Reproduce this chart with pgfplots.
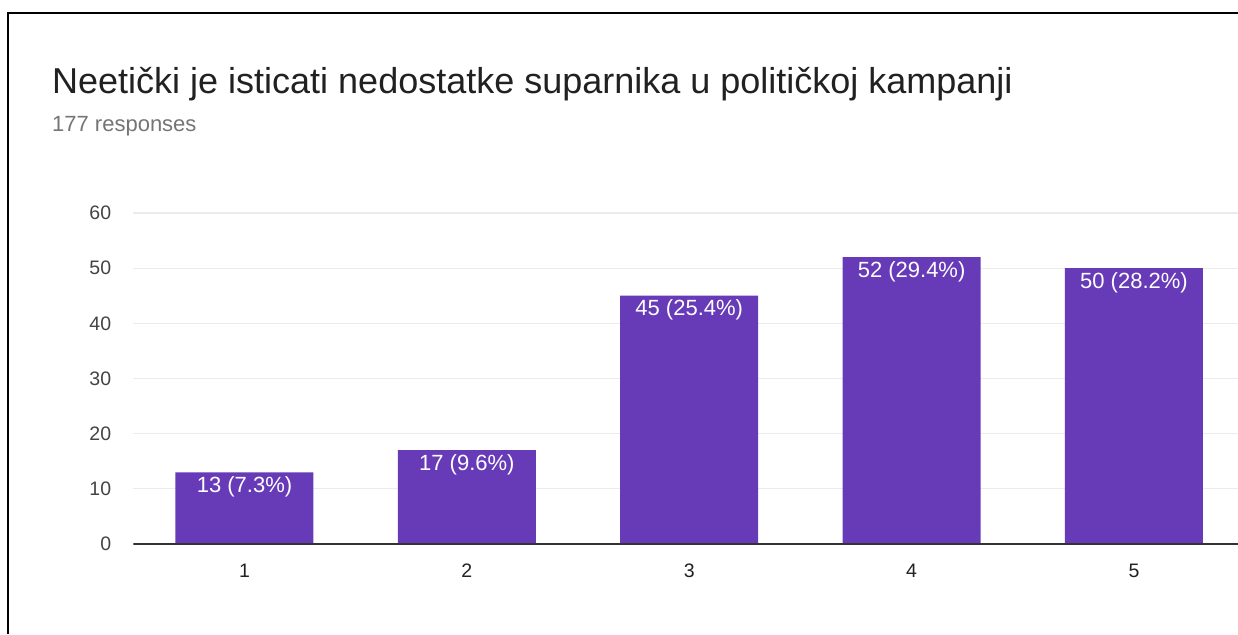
\documentclass[border=0pt]{standalone}
\usepackage{fontspec}
\setmainfont{Liberation Sans}
\usepackage{pgfplots}
\pgfplotsset{compat=1.18}
\definecolor{barc}{HTML}{673AB7}
\definecolor{gridc}{HTML}{EBEBEB}
\definecolor{axisc}{HTML}{333333}
\definecolor{ylab}{HTML}{444444}
\definecolor{xlab}{HTML}{222222}
\definecolor{subc}{HTML}{757575}
\definecolor{titc}{HTML}{212121}
\begin{document}
\begin{tikzpicture}[x=1pt,y=1pt]
\useasboundingbox (0,0) rectangle (1238,634);
\fill[white] (0,0) rectangle (1238,634);
\begin{axis}[
  at={(133.3pt,90pt)}, anchor=south west,
  scale only axis, width=1104.7pt, height=331pt,
  xmin=0.5, xmax=5.468, ymin=0, ymax=60,
  ytick={0,10,...,60}, xtick={1,2,3,4,5},
  ymajorgrids, grid style={color=gridc, line width=1.2pt},
  axis line style={draw=none},
  major tick length=0pt,
  yticklabel style={anchor=east, inner sep=0pt, xshift=-22pt, color=ylab, font=\fontsize{19.5}{22}\selectfont},
  xticklabel style={anchor=north, inner sep=0pt, yshift=-20pt, color=xlab, font=\fontsize{19.5}{22}\selectfont},
  /pgf/number format/assume math mode=true,
  point meta=explicit symbolic,
  nodes near coords,
  nodes near coords style={anchor=north, inner sep=0pt, yshift=-4pt, color=white, font=\fontsize{22}{24}\selectfont},
]
\addplot[ybar, bar width=138pt, fill=barc, draw=none] coordinates {
  (1,13) [13 (7.3\%)]
  (2,17) [17 (9.6\%)]
  (3,45) [45 (25.4\%)]
  (4,52) [52 (29.4\%)]
  (5,50) [50 (28.2\%)]
};
\draw[color=axisc, line width=1.5pt] (axis cs:0.5,0) -- (axis cs:5.468,0);
\end{axis}
\node[anchor=base west, inner sep=0pt, color=titc, font=\fontsize{36}{40}\selectfont] at (52,540) {Neetički je isticati nedostatke suparnika u političkoj kampanji};
\node[anchor=base west, inner sep=0pt, color=subc, font=\fontsize{22}{26}\selectfont] at (52,502) {177 responses};
\draw[line width=2pt, color=black] (7.5,0) -- (7.5,621) -- (1238,621);
\end{tikzpicture}
\end{document}
